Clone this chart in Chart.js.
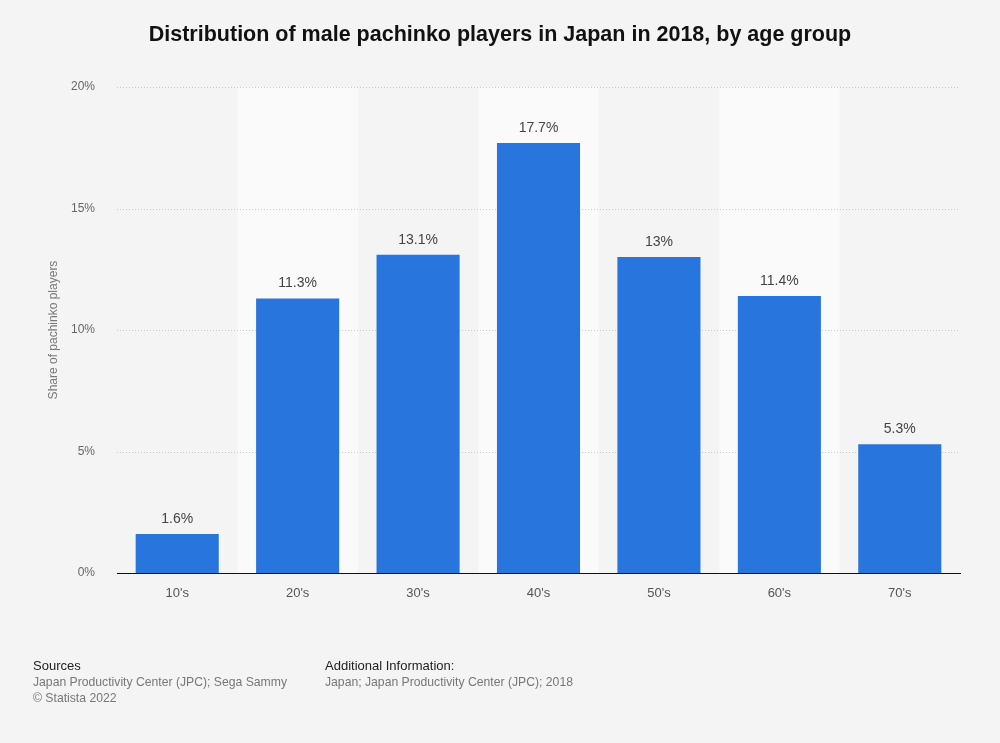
<!DOCTYPE html>
<html>
<head>
<meta charset="utf-8">
<script src="https://cdn.jsdelivr.net/npm/chart.js@4.4.1/dist/chart.umd.min.js"></script>
<style>
  html, body { margin: 0; padding: 0; background: #f4f4f4; }
  body { width: 1000px; height: 743px; position: relative; overflow: hidden; font-family: "Liberation Sans", Arial, sans-serif; }
  #wrap { position: absolute; left: 0; top: 0; width: 1000px; height: 743px; }
  #title { position: absolute; left: 0; top: 22px; width: 1000px; text-align: center; font-weight: bold; font-size: 21.5px; color: #111; }
  .foot { position: absolute; top: 658px; font-size: 12.2px; line-height: 16px; color: #777; }
  .foot b { font-weight: normal; color: #222; display: block; font-size: 13px; }
</style>
</head>
<body>
<div id="wrap"><canvas id="c" width="1000" height="743"></canvas></div>
<div id="title">Distribution of male pachinko players in Japan in 2018, by age group</div>
<div class="foot" style="left:33px"><b>Sources</b>Japan Productivity Center (JPC); Sega Sammy<br>© Statista 2022</div>
<div class="foot" style="left:325px"><b>Additional Information:</b>Japan; Japan Productivity Center (JPC); 2018</div>
<script>
const categories = ["10's", "20's", "30's", "40's", "50's", "60's", "70's"];
const shares = [1.6, 11.3, 13.1, 17.7, 13, 11.4, 5.3];
const yTicks = [0, 5, 10, 15, 20];
const yAxisTitle = "Share of pachinko players";

const bandPlugin = {
  id: 'bands',
  beforeDatasetsDraw(chart) {
    const {ctx, chartArea, scales} = chart;
    const x = scales.x;
    const step = (chartArea.right - chartArea.left) / categories.length;
    ctx.save();
    ctx.fillStyle = '#fafafa';
    for (let i = 1; i < categories.length; i += 2) {
      const cx = x.getPixelForValue(i);
      ctx.fillRect(cx - step / 2, chartArea.top, step, chartArea.bottom - chartArea.top);
    }
    ctx.restore();
  }
};

const gridPlugin = {
  id: 'dotgrid',
  beforeDatasetsDraw(chart) {
    const {ctx, chartArea, scales} = chart;
    ctx.save();
    ctx.strokeStyle = '#c8c8c8';
    ctx.lineWidth = 1;
    ctx.setLineDash([1, 2]);
    yTicks.forEach(v => {
      if (v === 0) return;
      const y = Math.round(scales.y.getPixelForValue(v)) + 0.5;
      ctx.beginPath();
      ctx.moveTo(chartArea.left, y);
      ctx.lineTo(chartArea.right, y);
      ctx.stroke();
    });
    ctx.restore();
  }
};

const labelPlugin = {
  id: 'vlabels',
  afterDatasetsDraw(chart) {
    const {ctx} = chart;
    const meta = chart.getDatasetMeta(0);
    ctx.save();
    ctx.font = '14px "Liberation Sans", Arial, sans-serif';
    ctx.fillStyle = '#444';
    ctx.textAlign = 'center';
    ctx.textBaseline = 'bottom';
    meta.data.forEach((bar, i) => {
      ctx.fillText(shares[i] + '%', bar.x, bar.y - 8);
    });
    ctx.restore();
  }
};

new Chart(document.getElementById('c'), {
  type: 'bar',
  data: {
    labels: categories,
    datasets: [{
      data: shares,
      backgroundColor: '#2876dd',
      borderWidth: 0,
      barPercentage: 0.69,
      categoryPercentage: 1.0
    }]
  },
  options: {
    responsive: false,
    animation: false,
    devicePixelRatio: 1,
    layout: { padding: { left: 0, right: 40, top: 87, bottom: 130 } },
    plugins: { legend: { display: false }, tooltip: { enabled: false }, title: { display: false } },
    scales: {
      x: {
        grid: { display: false, drawTicks: false },
        border: { display: true, color: '#111', width: 1 },
        ticks: { color: '#555', font: { size: 13, family: '"Liberation Sans", Arial, sans-serif' }, padding: 13 },
        afterFit(s) { s.height = 40; }
      },
      y: {
        min: 0, max: 20,
        afterBuildTicks(s) { s.ticks = yTicks.map(v => ({ value: v })); },
        grid: { display: false, drawTicks: false },
        border: { display: false },
        ticks: {
          color: '#666',
          font: { size: 12, family: '"Liberation Sans", Arial, sans-serif' },
          padding: 22,
          callback: v => v + '%'
        },
        title: {
          display: true,
          text: yAxisTitle,
          color: '#777',
          font: { size: 12, family: '"Liberation Sans", Arial, sans-serif' },
          padding: { top: 46, bottom: 0 }
        },
        afterFit(s) { s.width = 117; }
      }
    }
  },
  plugins: [bandPlugin, gridPlugin, labelPlugin]
});
</script>
</body>
</html>
